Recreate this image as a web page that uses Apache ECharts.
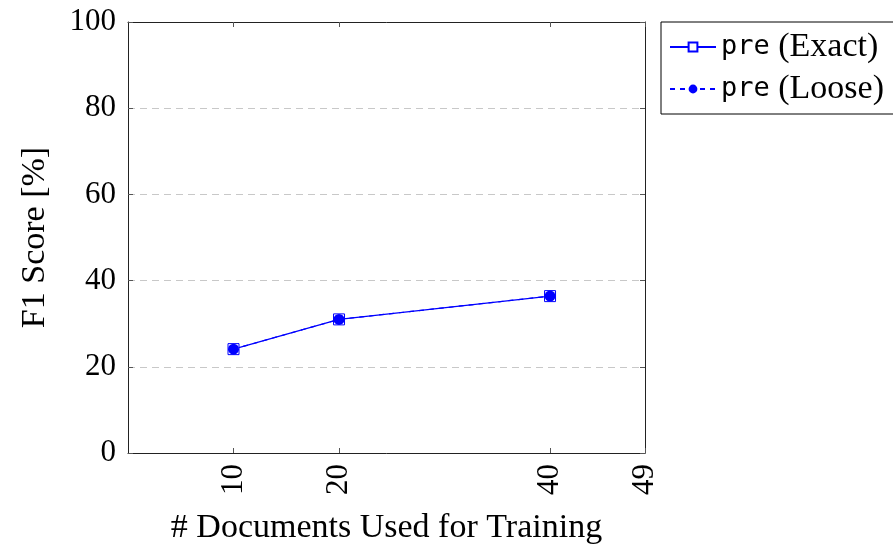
<!DOCTYPE html>
<html>
<head>
<meta charset="utf-8">
<script src="https://cdn.jsdelivr.net/npm/echarts@6/dist/echarts.min.js"></script>
<style>html,body{margin:0;padding:0;background:#fff}#c{width:893px;height:550px}</style>
</head>
<body>
<div id="c"></div>
<script>
var xTicks = [10, 20, 40, 49];
var yTicks = [0, 20, 40, 60, 80, 100];
var docs = [10, 20, 40];
var exactF1 = [24.1, 31.0, 36.4];
var looseF1 = [24.1, 31.0, 36.4];
var seriesNames = ['pre (Exact)', 'pre (Loose)'];

var serif = 'Liberation Serif';
var mono = 'DejaVu Sans Mono';
var chart = echarts.init(document.getElementById('c'));
function pairs(xs, ys) { return xs.map(function (x, i) { return [x, ys[i]]; }); }
var tickStyle = { show: true, inside: true, length: 5, lineStyle: { color: '#555', width: 1 } };
chart.setOption({
  animation: false,
  grid: { left: 128, right: 248, top: 22, bottom: 97, containLabel: false, outerBoundsMode: 'none' },
  legend: {
    left: 661, top: 22, orient: 'vertical', itemGap: 8,
    padding: [8, 30, 8, 8],
    borderColor: '#000', borderWidth: 1, backgroundColor: '#fff',
    itemWidth: 46, itemHeight: 11,
    formatter: function (n) { var p = n.split(' '); return '{m|' + p[0] + '}{s| ' + p.slice(1).join(' ') + '}'; },
    textStyle: { fontFamily: serif, fontSize: 34, color: '#000', lineHeight: 33,
      rich: {
        m: { fontFamily: mono, fontSize: 27, color: '#000', lineHeight: 33 },
        s: { fontFamily: serif, fontSize: 34, color: '#000', lineHeight: 33 }
      } },
    data: seriesNames
  },
  xAxis: [{
    type: 'value', min: 0, max: 49,
    name: '# Documents Used for Training', nameLocation: 'middle', nameGap: 58,
    nameTextStyle: { fontFamily: serif, fontSize: 34, color: '#000' },
    axisLine: { show: true, onZero: false, lineStyle: { color: '#222', width: 1 } },
    axisTick: Object.assign({ customValues: xTicks }, tickStyle),
    axisLabel: { customValues: xTicks, rotate: 90, fontFamily: serif, fontSize: 31, color: '#000', margin: 11 },
    splitLine: { show: false }
  }, {
    type: 'value', min: 0, max: 49, position: 'top',
    axisLine: { show: true, onZero: false, lineStyle: { color: '#222', width: 1 } },
    axisTick: Object.assign({ customValues: xTicks }, tickStyle),
    axisLabel: { show: false }, splitLine: { show: false }
  }],
  yAxis: [{
    type: 'value', min: 0, max: 100, interval: 20,
    name: 'F1 Score [%]', nameLocation: 'middle', nameGap: 76,
    nameTextStyle: { fontFamily: serif, fontSize: 34, color: '#000' },
    axisLine: { show: true, onZero: false, lineStyle: { color: '#222', width: 1 } },
    axisTick: tickStyle,
    axisLabel: { fontFamily: serif, fontSize: 31, color: '#000', margin: 12 },
    splitLine: { show: true, lineStyle: { color: '#c8c8c8', type: [7, 5], width: 1 } }
  }, {
    type: 'value', min: 0, max: 100, interval: 20, position: 'right',
    axisLine: { show: true, onZero: false, lineStyle: { color: '#222', width: 1 } },
    axisTick: tickStyle, axisLabel: { show: false }, splitLine: { show: false }
  }],
  series: [{
    name: seriesNames[0], type: 'line', data: pairs(docs, exactF1),
    symbol: 'rect', symbolSize: 11, showSymbol: true,
    itemStyle: { color: '#fff', borderColor: '#0000ff', borderWidth: 1 },
    lineStyle: { color: '#0000ff', width: 1.2 }, z: 3
  }, {
    name: seriesNames[1], type: 'line', data: pairs(docs, looseF1),
    symbol: 'circle', symbolSize: 11,
    itemStyle: { color: '#0000ff', borderColor: '#0000ff', borderWidth: 0 },
    lineStyle: { color: '#0000ff', width: 1.2, type: [5, 5] }, z: 4
  }]
});
</script>
</body>
</html>
